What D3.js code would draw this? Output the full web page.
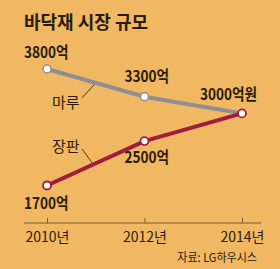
<!DOCTYPE html>
<html>
<head>
<meta charset="utf-8">
<script src="https://cdn.jsdelivr.net/npm/d3@7"></script>
<style>
  html, body { margin: 0; padding: 0; background: #f1b864; }
  svg { display: block; }
  text { font-family: "Noto Sans CJK KR", sans-serif; fill: #2a1c0c; }
</style>
</head>
<body>
<div id="chart"></div>
<script>
// 바닥재 시장 규모 (억원)
const years = [2010, 2012, 2014];
const tickLabels = ["2010년", "2012년", "2014년"];
const maru = [3800, 3300, 3000];
const jangpan = [1700, 2500, 3000];
const maruLabels = ["3800억", "3300억", ""];
const jangpanLabels = ["1700억", "2500억", ""];

const width = 280, height = 269;

const svg = d3.select("#chart").append("svg")
    .attr("width", width)
    .attr("height", height);

svg.append("rect").attr("width", width).attr("height", height).attr("fill", "#f1b864");

const x = d3.scaleLinear().domain([2010, 2014]).range([47, 242]);
const y = d3.scaleLinear().domain([1700, 3800]).range([185.5, 69]);

// title
svg.append("text")
    .attr("x", 24).attr("y", 29)
    .attr("font-size", 18).attr("font-weight", "bold")
    .text("바닥재 시장 규모");

// x axis
const axis = d3.axisBottom(x)
    .tickValues(years)
    .tickSize(-5)
    .tickSizeOuter(0)
    .tickFormat((d, i) => tickLabels[i]);

const axisG = svg.append("g")
    .attr("transform", "translate(0,223)")
    .call(axis);
axisG.select(".domain").remove();
axisG.append("line")
    .attr("x1", 24).attr("x2", 261)
    .attr("stroke", "#7a5a2e").attr("stroke-width", 1);
axisG.selectAll(".tick line").attr("stroke", "#7a5a2e");
axisG.selectAll(".tick text")
    .attr("y", 19)
    .attr("dy", 0)
    .attr("font-size", 14)
    .style("font-family", "'Noto Sans CJK KR', sans-serif")
    .attr("fill", "#2a1c0c");

const line = d3.line()
    .x((d, i) => x(years[i]))
    .y(d => y(d));

// point on a series between 2010 and 2012
const onSeries = (vals, yr) => y(vals[0] + (vals[1] - vals[0]) * (yr - years[0]) / (years[1] - years[0]));

// leader lines for series names
const leaders = svg.append("g").attr("stroke", "#2a1c0c").attr("stroke-width", 0.8);
leaders.append("line")
    .attr("x1", 82).attr("y1", 98)
    .attr("x2", x(2011)).attr("y2", onSeries(maru, 2011));
leaders.append("line")
    .attr("x1", 82).attr("y1", 149)
    .attr("x2", x(2010.95)).attr("y2", onSeries(jangpan, 2010.95));

// series
svg.append("path").datum(maru)
    .attr("d", line)
    .attr("fill", "none")
    .attr("stroke", "#8e8e95")
    .attr("stroke-width", 4);

svg.append("path").datum(jangpan)
    .attr("d", line)
    .attr("fill", "none")
    .attr("stroke", "#a01d3d")
    .attr("stroke-width", 4);

svg.append("g").selectAll("circle")
    .data(maru.slice(0, 2))
    .join("circle")
    .attr("cx", (d, i) => x(years[i]))
    .attr("cy", d => y(d))
    .attr("r", 4)
    .attr("fill", "#fff")
    .attr("stroke", "#8e8e95")
    .attr("stroke-width", 1.5);

svg.append("g").selectAll("circle")
    .data(jangpan)
    .join("circle")
    .attr("cx", (d, i) => x(years[i]))
    .attr("cy", d => y(d))
    .attr("r", 4)
    .attr("fill", "#fff")
    .attr("stroke", "#a01d3d")
    .attr("stroke-width", 1.8);

// value labels
const labelG = svg.append("g")
    .attr("font-size", 16)
    .attr("font-weight", "bold");

function valueLabel(tx, ty, txt) {
    labelG.append("text")
        .attr("x", tx).attr("y", ty)
        .attr("transform", `translate(${tx},0) scale(0.85,1) translate(${-tx},0)`)
        .text(txt);
}

valueLabel(x(2010) - 23, y(maru[0]) - 11, maruLabels[0]);
valueLabel(x(2012) - 20, y(maru[1]) - 15, maruLabels[1]);
valueLabel(x(2014) - 42, y(maru[2]) - 13, "3000억원");
valueLabel(x(2012) - 20, y(jangpan[1]) + 22, jangpanLabels[1]);
valueLabel(x(2010) - 23, y(jangpan[0]) + 24, jangpanLabels[0]);

// series names
svg.append("text").attr("x", 52).attr("y", 108).attr("font-size", 15).text("마루");
svg.append("text").attr("x", 52).attr("y", 152).attr("font-size", 15).text("장판");

// source
svg.append("text")
    .attr("x", 257).attr("y", 262)
    .attr("text-anchor", "end")
    .attr("font-size", 12)
    .attr("transform", "translate(257,0) scale(0.92,1) translate(-257,0)")
    .text("자료: LG하우시스");
</script>
</body>
</html>
